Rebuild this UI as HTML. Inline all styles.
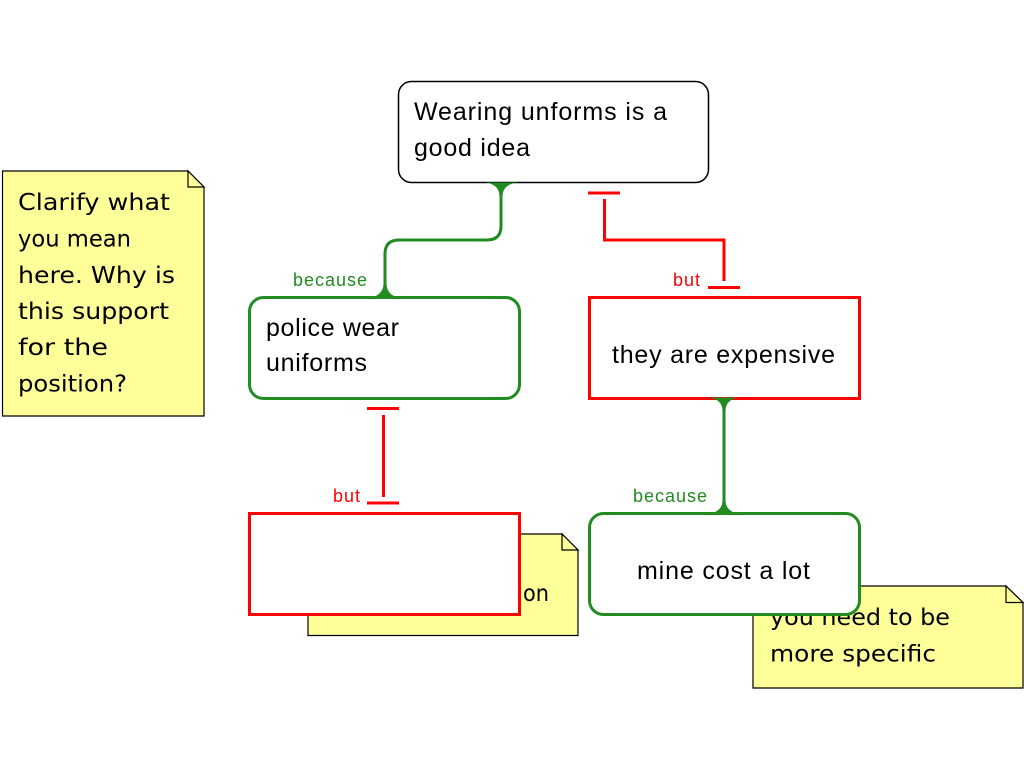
<!DOCTYPE html>
<html>
<head>
<meta charset="utf-8">
<style>
  html, body { margin: 0; padding: 0; background: #ffffff; }
  body { width: 1024px; height: 768px; overflow: hidden; }
  svg { display: block; }
  .main { font-family: "Liberation Sans", Arial, sans-serif; font-size: 25px; fill: #000; }
  .note { font-family: "DejaVu Sans", "Liberation Sans", sans-serif; font-size: 23.5px; fill: #000; }
  .lblg { font-family: "Liberation Sans", Arial, sans-serif; font-size: 18px; fill: #228B22; }
  .lblr { font-family: "Liberation Sans", Arial, sans-serif; font-size: 18px; fill: #FF0000; }
</style>
</head>
<body>
<svg width="1024" height="768" viewBox="0 0 1024 768" xmlns="http://www.w3.org/2000/svg">
  <rect x="0" y="0" width="1024" height="768" fill="#ffffff"/>

  <!-- Left note -->
  <polygon points="2.5,171 188,171 204,187 204,416 2.5,416" fill="#FFFF99" stroke="#000" stroke-width="1.2"/>
  <polygon points="188,171 188,187 204,187" fill="#FFFF99" stroke="#000" stroke-width="1.2"/>
  <text class="note" x="18" y="210" textLength="152" lengthAdjust="spacingAndGlyphs">Clarify what</text>
  <text class="note" x="18" y="246.5" textLength="113" lengthAdjust="spacingAndGlyphs">you mean</text>
  <text class="note" x="18" y="283" textLength="157" lengthAdjust="spacingAndGlyphs">here. Why is</text>
  <text class="note" x="18" y="319" textLength="151" lengthAdjust="spacingAndGlyphs">this support</text>
  <text class="note" x="18" y="355" textLength="90" lengthAdjust="spacingAndGlyphs">for the</text>
  <text class="note" x="18" y="391.5" textLength="109" lengthAdjust="spacingAndGlyphs">position?</text>

  <!-- Hidden note (behind bottom-left red box) -->
  <polygon points="308,534 562,534 578,550 578,635.5 308,635.5" fill="#FFFF99" stroke="#000" stroke-width="1.2"/>
  <polygon points="562,534 562,550 578,550" fill="#FFFF99" stroke="#000" stroke-width="1.2"/>
  <text class="note" x="515" y="601" text-anchor="end">Please elaborate</text>
  <text class="note" x="523" y="601" textLength="26" lengthAdjust="spacingAndGlyphs">on</text>

  <!-- Right note -->
  <polygon points="753,586 1006,586 1023,602.5 1023,688 753,688" fill="#FFFF99" stroke="#000" stroke-width="1.2"/>
  <polygon points="1006,586 1006,602.5 1023,602.5" fill="#FFFF99" stroke="#000" stroke-width="1.2"/>
  <text class="note" x="770" y="625" textLength="180" lengthAdjust="spacingAndGlyphs">you need to be</text>
  <text class="note" x="770" y="661.5" textLength="166" lengthAdjust="spacingAndGlyphs">more specific</text>

  <!-- Top box -->
  <rect x="398.5" y="81.5" width="310" height="101" rx="13" ry="13" fill="#fff" stroke="#000" stroke-width="1.5"/>
  <text class="main" x="414" y="120" textLength="253">Wearing unforms is a</text>
  <text class="main" x="414" y="156" textLength="116">good idea</text>

  <!-- police wear uniforms -->
  <rect x="249.5" y="297.5" width="270" height="101" rx="14" ry="14" fill="#fff" stroke="#228B22" stroke-width="3"/>
  <text class="main" x="266" y="336" textLength="133">police wear</text>
  <text class="main" x="266" y="371" textLength="101">uniforms</text>

  <!-- they are expensive -->
  <rect x="589.5" y="297.5" width="270" height="101" fill="#fff" stroke="#FF0000" stroke-width="3"/>
  <text class="main" x="612" y="363" textLength="223">they are expensive</text>

  <!-- bottom-left red box (empty) -->
  <rect x="249.5" y="513.5" width="270" height="101" fill="#fff" stroke="#FF0000" stroke-width="3"/>

  <!-- mine cost a lot -->
  <rect x="589.5" y="513.5" width="270" height="101" rx="14" ry="14" fill="#fff" stroke="#228B22" stroke-width="3"/>
  <text class="main" x="637" y="579" textLength="173">mine cost a lot</text>

  <!-- Green connector: police -> top -->
  <path d="M501,195 L501,226 Q501,240 487,240 L399,240 Q385,240 385,254 L385,285" fill="none" stroke="#228B22" stroke-width="3"/>
  <path d="M485,182.5 L518,182.5 Q502.5,184 502.5,197 L499.5,197 Q499.5,184 485,182.5 Z" fill="#228B22"/>
  <path d="M368,298 L401,298 Q386.5,296 386.5,283 L383.5,283 Q383.5,296 368,298 Z" fill="#228B22"/>
  <text class="lblg" x="293" y="286" textLength="74">because</text>

  <!-- Red connector: expensive -> top -->
  <rect x="588" y="191.5" width="32" height="3" fill="#FF0000"/>
  <path d="M604.5,199 L604.5,240 L724,240 L724,281" fill="none" stroke="#FF0000" stroke-width="3"/>
  <rect x="708" y="286" width="32" height="3" fill="#FF0000"/>
  <text class="lblr" x="673" y="286" textLength="27">but</text>

  <!-- Red connector: bottom-left -> police -->
  <rect x="367" y="407" width="32" height="3" fill="#FF0000"/>
  <path d="M383.5,415 L383.5,497" fill="none" stroke="#FF0000" stroke-width="3"/>
  <rect x="367" y="501.5" width="32" height="3" fill="#FF0000"/>
  <text class="lblr" x="333" y="502" textLength="27">but</text>

  <!-- Green connector: mine -> expensive -->
  <path d="M724,408 L724,502" fill="none" stroke="#228B22" stroke-width="3"/>
  <path d="M708,397.5 L740,397.5 Q725.5,399 725.5,411 L722.5,411 Q722.5,399 708,397.5 Z" fill="#228B22"/>
  <path d="M708,514 L740,514 Q725.5,512 725.5,500 L722.5,500 Q722.5,512 708,514 Z" fill="#228B22"/>
  <text class="lblg" x="633" y="502" textLength="74">because</text>
</svg>
</body>
</html>
